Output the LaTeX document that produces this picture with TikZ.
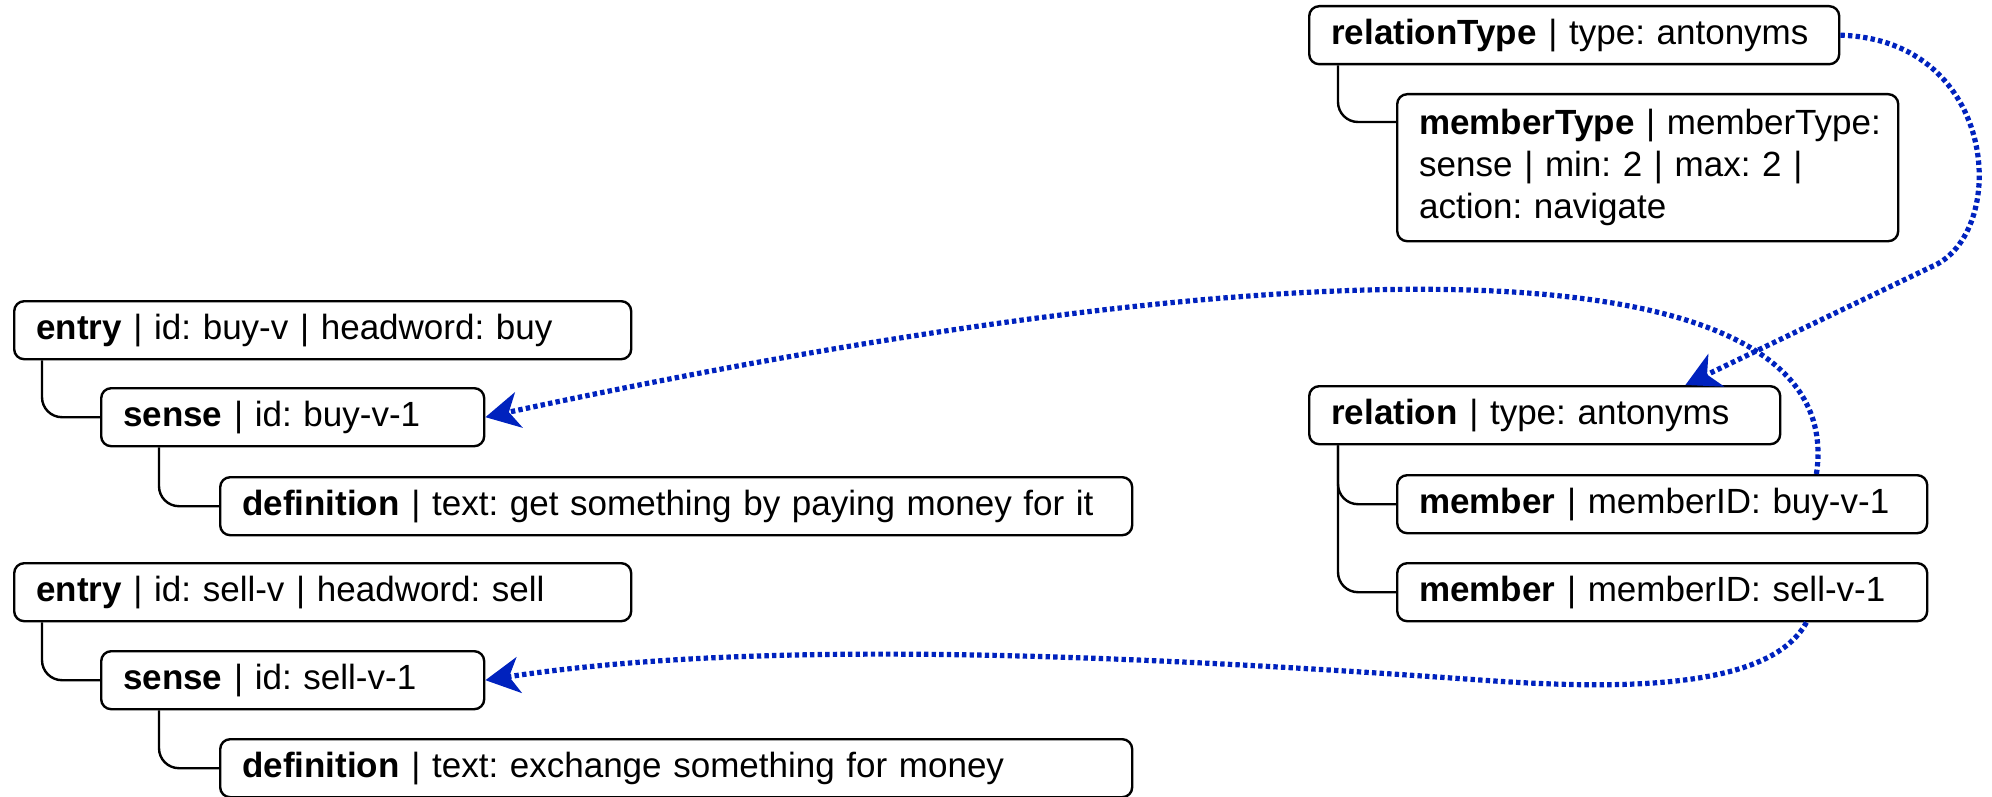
\documentclass[tikz,border=0pt]{standalone}
\usepackage{fontspec}
\setmainfont{Liberation Sans}
\usetikzlibrary{arrows.meta}
\definecolor{linkblue}{RGB}{0,34,190}
\frenchspacing

\begin{document}
\begin{tikzpicture}[%
    x=0.5pt,
    y=-0.5pt,
    block/.style={
      rectangle,
      draw=black,
      line width=1.2pt,
      fill=white,
      rounded corners=5pt,
      anchor=north west,
      text width=#1,
      align=left,
      inner xsep=11pt,
      minimum height=29pt,
      font=\fontsize{17.5}{21}\selectfont
    },
    branch/.style={
      line width=1.2pt,
      rounded corners=10pt
    },
    link/.style={
      linkblue,
      line width=2.6pt,
      dash pattern=on 2.2pt off 1.6pt,
      -{Stealth[length=17pt,width=18pt,inset=5pt]}
    }
  ]
    \useasboundingbox (0,0) rectangle (1992,797);

    \draw (1308,5) node[block=243pt] (relType) {\textbf{relationType} | type: antonyms};
    \draw (1396,93) node[block=228.5pt, minimum height=73.5pt] (memType) {%
      \mbox{\textbf{memberType} | memberType:}\\
      \mbox{sense | min: 2 | max: 2 |}\\
      \mbox{action: navigate}};

    \draw (13,300) node[block=286.5pt] (buyEntry) {\textbf{entry} | id: buy-v | headword: buy};
    \draw (100,387) node[block=169.5pt] (buySense) {\textbf{sense} | id: buy-v-1};
    \draw (219,476) node[block=434pt] (buyDef) {\textbf{definition} | text: get something by paying money for it};

    \draw (13,562) node[block=286.5pt] (sellEntry) {\textbf{entry} | id: sell-v | headword: sell};
    \draw (100,650) node[block=169.5pt] (sellSense) {\textbf{sense} | id: sell-v-1};
    \draw (219,738) node[block=434pt] (sellDef) {\textbf{definition} | text: exchange something for money};

    \draw (1308,385) node[block=213.5pt] (rel) {\textbf{relation} | type: antonyms};
    \draw (1396,474) node[block=243pt] (buyMember) {\textbf{member} | memberID: buy-v-1};
    \draw (1396,562) node[block=243pt] (sellMember) {\textbf{member} | memberID: sell-v-1};

    \draw[branch] ([xshift=-29pt]memType.west |- relType.south) |- ([yshift=-14.5pt]memType.north west);
    \draw[branch] ([xshift=-29pt]buySense.west |- buyEntry.south) |- (buySense.west);
    \draw[branch] ([xshift=-30pt]buyDef.west |- buySense.south) |- (buyDef.west);
    \draw[branch] ([xshift=-29pt]sellSense.west |- sellEntry.south) |- (sellSense.west);
    \draw[branch] ([xshift=-30pt]sellDef.west |- sellSense.south) |- (sellDef.west);
    \draw[branch] ([xshift=-29pt]buyMember.west |- rel.south) |- (buyMember.west);
    \draw[branch] ([xshift=-29pt]sellMember.west |- rel.south) |- (sellMember.west);

    \draw[link] (relType.east) .. controls (2000,40) and (2010,235) .. (1931,267)
      -- ([xshift=-48pt]rel.north east);
    \draw[link] ([xshift=-56pt]buyMember.north east) .. controls (1850,250) and (1350,230) .. (buySense.east);
    \draw[link] ([xshift=-61pt]sellMember.south east) .. controls (1770,690) and (1620,690) .. (1480,680)
      .. controls (1100,653) and (750,640) .. (sellSense.east);

  \end{tikzpicture}
\end{document}
